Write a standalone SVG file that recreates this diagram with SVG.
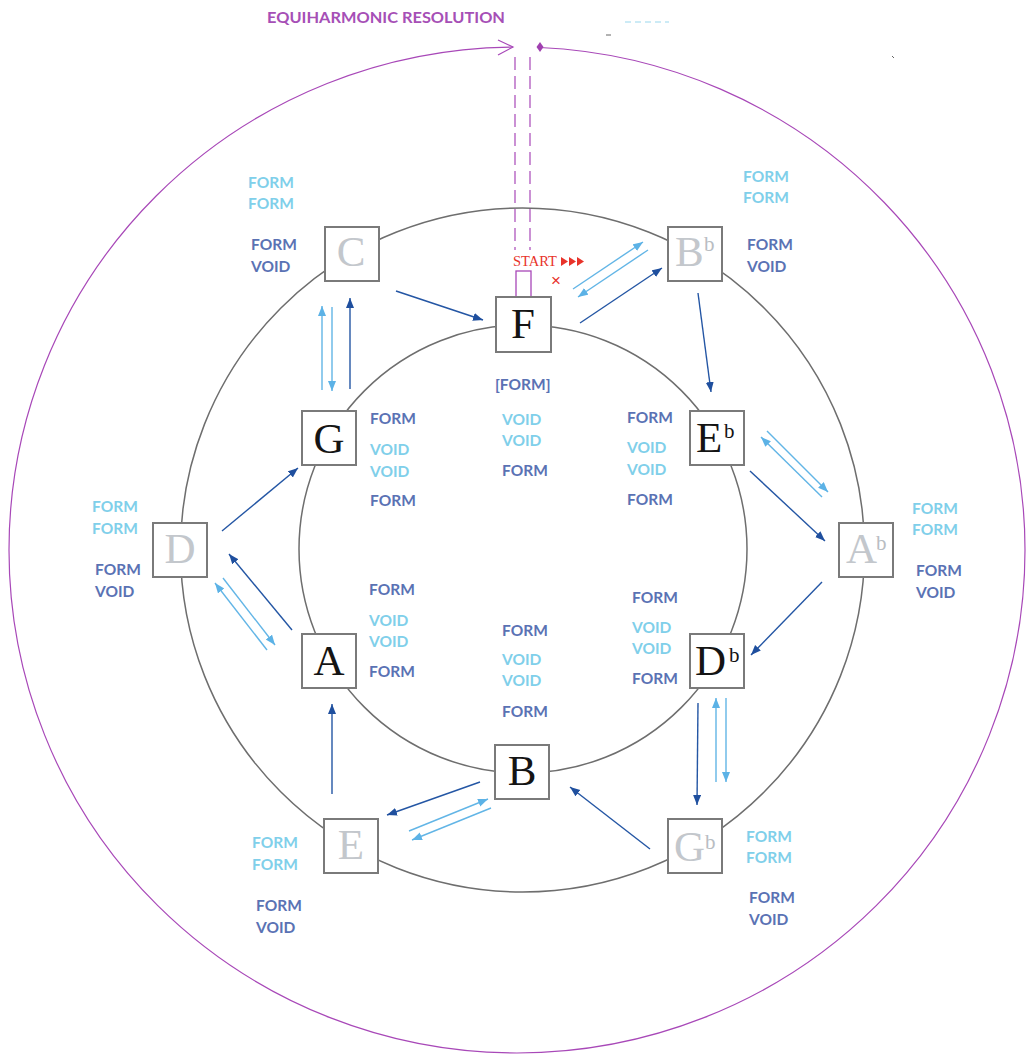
<svg xmlns="http://www.w3.org/2000/svg" width="1029" height="1057" viewBox="0 0 1029 1057">
<style>
.box{fill:#fff;stroke:#7a7a7a;stroke-width:2}
.ring{fill:none;stroke:#6e6e6e;stroke-width:1.5}
.nb{font-family:"Liberation Serif",serif;font-size:43px;fill:#141414}
.ng{font-family:"Liberation Serif",serif;font-size:43px;fill:#c3c7cc}
.sb{font-family:"Liberation Serif",serif;font-size:21px;fill:#141414}
.sg{font-family:"Liberation Serif",serif;font-size:21px;fill:#b9bdc2}
.lab{font-family:Lato,"Liberation Sans",sans-serif;font-weight:700;font-size:15.5px}
.dk{fill:#5a72b4}
.lt{fill:#80cfea}
.ad{fill:none;stroke:#2456a4;stroke-width:1.4;marker-end:url(#hd)}
.al{fill:none;stroke:#62b5e6;stroke-width:1.4;marker-end:url(#hl)}
.pur{fill:none;stroke:#a848b8;stroke-width:1.2}
</style>
<defs>
<marker id="hd" markerUnits="userSpaceOnUse" markerWidth="11" markerHeight="9" refX="10" refY="4" orient="auto"><path d="M0,0 L10,4 L0,8 z" fill="#1f4f9e"/></marker>
<marker id="hl" markerUnits="userSpaceOnUse" markerWidth="11" markerHeight="9" refX="10" refY="4" orient="auto"><path d="M0,0 L10,4 L0,8 z" fill="#5cb2e6"/></marker>
</defs>
<rect width="1029" height="1057" fill="#fff"/>

<g id="title">
<text x="267" y="23" font-family="Lato,'Liberation Sans',sans-serif" font-weight="700" font-size="16" fill="#a64fb6" textLength="238" lengthAdjust="spacingAndGlyphs">EQUIHARMONIC RESOLUTION</text>
</g>

<g id="marks">
<line x1="625" y1="22" x2="669" y2="22" stroke="#9ad8ee" stroke-width="1.2" stroke-dasharray="6 4"/>
<line x1="606" y1="35" x2="611" y2="35" stroke="#666" stroke-width="1"/>
<line x1="892" y1="56" x2="894" y2="58" stroke="#666" stroke-width="1"/>
</g>

<g id="equiharmonic">
<path class="pur" d="M 540 47.52 A 508 503 0 0 1 1025 550 A 508 503 0 0 1 517 1053 A 508 503 0 0 1 9 550 A 508 503 0 0 1 513 47.02"/>
<path class="pur" d="M 498 40 L 513 47 L 498 55"/>
<path d="M 540 42 L 543.5 47 L 540 52 L 536.5 47 z" fill="#a040b0"/>
<line class="pur" x1="515" y1="57" x2="515" y2="250" stroke-dasharray="13 6"/>
<line class="pur" x1="530" y1="57" x2="530" y2="250" stroke-dasharray="13 6"/>
<rect x="516" y="271" width="15" height="27" fill="#fff" stroke="#a848b8" stroke-width="1.3"/>
</g>

<g id="rings">
<circle class="ring" cx="522.5" cy="550" r="342"/>
<circle class="ring" cx="523" cy="549" r="224"/>
</g>

<g id="connectors">
<line class="ad" x1="396" y1="291" x2="483" y2="320"/>
<line class="ad" x1="580" y1="323" x2="662" y2="268"/>
<line class="ad" x1="698" y1="293" x2="711" y2="392"/>
<line class="ad" x1="750" y1="471" x2="825" y2="541"/>
<line class="ad" x1="822" y1="582" x2="751" y2="655"/>
<line class="ad" x1="698" y1="703" x2="697" y2="805"/>
<line class="ad" x1="650" y1="849" x2="570" y2="787"/>
<line class="ad" x1="480" y1="782" x2="387" y2="815"/>
<line class="ad" x1="332" y1="794" x2="332" y2="704"/>
<line class="ad" x1="292" y1="630" x2="229" y2="554"/>
<line class="ad" x1="222" y1="531" x2="298" y2="468"/>
<line class="ad" x1="350" y1="389" x2="350" y2="298"/>

<line class="al" x1="573" y1="289" x2="643" y2="242"/>
<line class="al" x1="648" y1="250" x2="578" y2="297"/>
<line class="al" x1="767" y1="431" x2="828" y2="492"/>
<line class="al" x1="822" y1="497" x2="761" y2="437"/>
<line class="al" x1="716" y1="782" x2="716" y2="698"/>
<line class="al" x1="726" y1="698" x2="726" y2="782"/>
<line class="al" x1="409" y1="831" x2="488" y2="799"/>
<line class="al" x1="491" y1="808" x2="412" y2="840"/>
<line class="al" x1="267" y1="650" x2="215" y2="583"/>
<line class="al" x1="223" y1="578" x2="275" y2="645"/>
<line class="al" x1="322" y1="390" x2="322" y2="306"/>
<line class="al" x1="332" y1="307" x2="332" y2="391"/>
</g>

<g id="start">
<text x="513" y="266" font-family="'Liberation Serif',serif" font-size="14.5" fill="#e8332a">START</text>
<polygon points="561,257 568,261.5 561,266" fill="#e8332a"/>
<polygon points="569,257 576,261.5 569,266" fill="#e8332a"/>
<polygon points="577,257 584,261.5 577,266" fill="#e8332a"/>
<text x="556" y="286" text-anchor="middle" font-family="'Liberation Sans',sans-serif" font-size="17" fill="#e8332a">×</text>
</g>

<g id="node-F"><rect class="box" x="496" y="297" width="55" height="55"/><text class="nb" x="523" y="338" text-anchor="middle" font-size="46">F</text></g>
<g id="node-C"><rect class="box" x="325" y="227" width="54" height="54"/><text class="ng" x="351" y="266" text-anchor="middle">C</text></g>
<g id="node-Bb"><rect class="box" x="668" y="227" width="54" height="54"/><text class="ng" x="675" y="266">B</text><text class="sg" x="704" y="251">b</text></g>
<g id="node-G"><rect class="box" x="302" y="411" width="54" height="54"/><text class="nb" x="329" y="453" text-anchor="middle">G</text></g>
<g id="node-Eb"><rect class="box" x="690" y="411" width="54" height="54"/><text class="nb" x="696" y="452">E</text><text class="sb" x="724" y="438">b</text></g>
<g id="node-D"><rect class="box" x="153" y="523" width="54" height="54"/><text class="ng" x="180" y="563" text-anchor="middle">D</text></g>
<g id="node-Ab"><rect class="box" x="839" y="523" width="54" height="54"/><text class="ng" x="846" y="563">A</text><text class="sg" x="876" y="550">b</text></g>
<g id="node-A"><rect class="box" x="302" y="634" width="54" height="54"/><text class="nb" x="329" y="675" text-anchor="middle">A</text></g>
<g id="node-Db"><rect class="box" x="690" y="634" width="54" height="54"/><text class="nb" x="695" y="675">D</text><text class="sb" x="729" y="662">b</text></g>
<g id="node-B"><rect class="box" x="495" y="745" width="54" height="54"/><text class="nb" x="522" y="785" text-anchor="middle">B</text></g>
<g id="node-E"><rect class="box" x="324" y="819" width="54" height="54"/><text class="ng" x="351" y="859" text-anchor="middle">E</text></g>
<g id="node-Gb"><rect class="box" x="668" y="819" width="54" height="54"/><text class="ng" x="674" y="861">G</text><text class="sg" x="705" y="849">b</text></g>

<g id="labels">
<text class="lab lt" x="248" y="188">FORM</text>
<text class="lab lt" x="248" y="209">FORM</text>
<text class="lab dk" x="251" y="250">FORM</text>
<text class="lab dk" x="251" y="272">VOID</text>

<text class="lab lt" x="743" y="182">FORM</text>
<text class="lab lt" x="743" y="203">FORM</text>
<text class="lab dk" x="747" y="250">FORM</text>
<text class="lab dk" x="747" y="272">VOID</text>

<text class="lab dk" x="495" y="390">[FORM]</text>
<text class="lab lt" x="502" y="425">VOID</text>
<text class="lab lt" x="502" y="446">VOID</text>
<text class="lab dk" x="502" y="476">FORM</text>

<text class="lab dk" x="370" y="424">FORM</text>
<text class="lab lt" x="370" y="455">VOID</text>
<text class="lab lt" x="370" y="477">VOID</text>
<text class="lab dk" x="370" y="506">FORM</text>

<text class="lab dk" x="627" y="423">FORM</text>
<text class="lab lt" x="627" y="453">VOID</text>
<text class="lab lt" x="627" y="475">VOID</text>
<text class="lab dk" x="627" y="505">FORM</text>

<text class="lab lt" x="92" y="512">FORM</text>
<text class="lab lt" x="92" y="534">FORM</text>
<text class="lab dk" x="95" y="575">FORM</text>
<text class="lab dk" x="95" y="597">VOID</text>

<text class="lab lt" x="912" y="514">FORM</text>
<text class="lab lt" x="912" y="535">FORM</text>
<text class="lab dk" x="916" y="576">FORM</text>
<text class="lab dk" x="916" y="598">VOID</text>

<text class="lab dk" x="369" y="595">FORM</text>
<text class="lab lt" x="369" y="626">VOID</text>
<text class="lab lt" x="369" y="647">VOID</text>
<text class="lab dk" x="369" y="677">FORM</text>

<text class="lab dk" x="632" y="603">FORM</text>
<text class="lab lt" x="632" y="633">VOID</text>
<text class="lab lt" x="632" y="654">VOID</text>
<text class="lab dk" x="632" y="684">FORM</text>

<text class="lab dk" x="502" y="636">FORM</text>
<text class="lab lt" x="502" y="665">VOID</text>
<text class="lab lt" x="502" y="686">VOID</text>
<text class="lab dk" x="502" y="717">FORM</text>

<text class="lab lt" x="252" y="848">FORM</text>
<text class="lab lt" x="252" y="870">FORM</text>
<text class="lab dk" x="256" y="911">FORM</text>
<text class="lab dk" x="256" y="933">VOID</text>

<text class="lab lt" x="746" y="842">FORM</text>
<text class="lab lt" x="746" y="863">FORM</text>
<text class="lab dk" x="749" y="903">FORM</text>
<text class="lab dk" x="749" y="925">VOID</text>
</g>
</svg>
